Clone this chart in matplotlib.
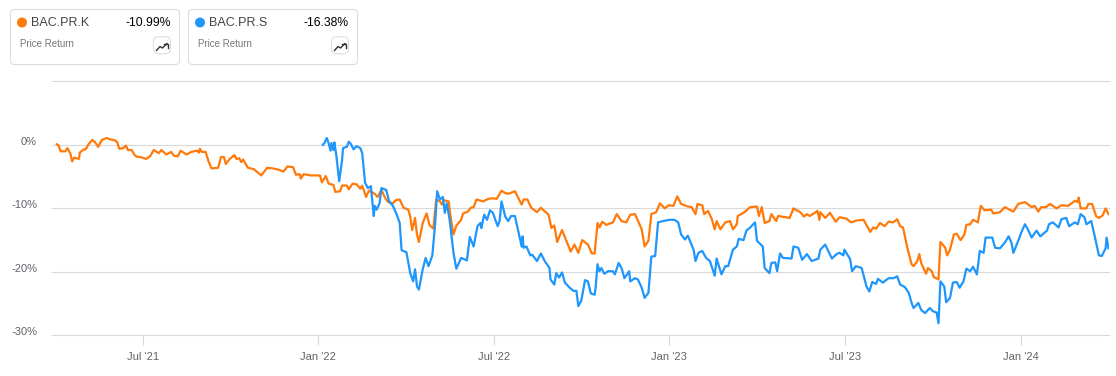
import matplotlib
matplotlib.use('Agg')
import matplotlib.pyplot as plt
from matplotlib.patches import FancyBboxPatch, Circle
import pandas as pd

plt.rcParams['font.family'] = ['Liberation Sans', 'DejaVu Sans']

start_date = pd.Timestamp('2021-03-28')

# days since start_date, and price return in %
k_days = [5, 7, 9, 14, 16, 19, 21, 23, 28, 29, 33, 35, 38, 42, 45, 48, 52, 57, 60, 66, 68, 70, 74, 77, 79, 83, 86, 89, 92, 98,
          102, 106, 111, 114, 119, 124, 127, 131, 134, 140, 145, 151, 153, 154, 156, 160, 163, 166, 173, 176, 179, 181, 185, 190, 192, 195, 197, 199,
          204, 210, 218, 224, 230, 236, 241, 245, 251, 254, 258, 259, 262, 269, 279, 281, 285, 288, 293, 295, 300,
          302, 307, 309, 313, 317, 321, 323, 327, 330, 336, 339, 343, 347, 350, 355, 358, 362, 366, 371, 373, 375, 378, 380, 382, 386, 390, 393, 397,
          400, 404, 406, 408, 413, 415, 418, 421, 426, 428, 433, 436, 439, 442, 449, 454, 459, 463, 468, 472, 475, 482, 489, 491, 495, 499, 505, 509,
          517, 520, 523, 526, 531, 536, 540, 544, 548, 552, 558, 562, 565, 568,
          570, 573, 577, 584, 588, 593, 598, 602, 607, 614, 617, 621, 624, 629, 633, 638, 642, 647, 651, 655, 662, 666, 670, 672, 677, 679, 683, 687, 690,
          692, 696, 701, 706, 709, 713, 714, 721, 727, 734, 736, 739, 742, 747, 749, 754, 756, 768, 772, 779, 783, 786, 789, 797, 799, 800, 805, 810, 816, 820,
          827, 832, 838, 845, 852, 855, 858, 862, 867, 871, 876, 880, 883, 886, 891, 895, 897, 901, 903, 905, 910, 912, 916, 918, 923, 925, 930, 932, 935,
          939, 942, 946, 950, 952, 956, 959, 964, 967, 971, 978, 980, 987, 992, 997, 1001, 1006, 1013, 1020, 1023, 1027, 1030, 1035, 1039, 1046, 1051, 1058,
          1065, 1068, 1069, 1071, 1077, 1079, 1083, 1087, 1090, 1094, 1097, 1100]
k_pct = [0.1, -0.1, -1.0, -1.0, -0.5, -1.3, -2.6, -2.0, -2.2, -1.2, -0.7, -0.7, 0.1, 0.8, 0.4, -0.3, 0.8, 1.1, 0.9, 0.7, 0.4, -0.6, -0.5, -0.1, -0.8, -0.8, -1.6, -1.9, -1.9, -2.2,
         -1.8, -0.8, -1.3, -0.8, -1.5, -1.1, -1.7, -1.8, -0.9, -1.5, -1.1, -0.9, -1.2, -0.6, -1.1, -1.1, -2.6, -3.7, -3.6, -1.9, -1.9, -3.0, -2.2, -1.6, -2.2, -2.1, -2.7, -2.3,
         -3.6, -3.8, -4.8, -3.6, -3.7, -3.9, -4.2, -3.4, -3.5, -4.7, -4.6, -5.3, -4.6, -4.8, -4.8, -5.9, -4.9, -6.1, -6.3, -7.4, -7.3,
         -6.4, -6.4, -7.0, -6.1, -6.2, -6.9, -6.4, -8.2, -7.2, -7.7, -8.2, -7.1, -8.4, -9.0, -9.2, -8.7, -8.6, -9.9, -10.2, -11.3, -13.4, -11.5, -14.1, -15.3, -12.3, -10.8, -12.6, -13.2,
         -8.6, -8.9, -9.4, -8.7, -8.9, -11.3, -14.1, -12.7, -11.8, -10.8, -10.5, -9.9, -9.8, -8.6, -8.9, -8.5, -8.4, -8.5, -7.2, -7.6, -7.7, -7.3, -9.4, -8.6, -8.6, -9.9, -10.6, -9.9,
         -11.0, -13.1, -12.7, -15.3, -13.4, -15.3, -16.8, -15.7, -17.0, -15.0, -15.7, -17.1, -17.1, -12.3,
         -13.0, -12.1, -12.6, -12.2, -10.9, -12.0, -12.2, -11.0, -10.9, -13.3, -16.0, -15.1, -10.9, -10.6, -9.2, -10.0, -9.5, -9.6, -8.1, -9.3, -9.7, -9.8, -10.9, -9.3, -9.5, -10.9, -10.4, -11.7, -13.3,
         -12.0, -13.3, -12.2, -12.0, -13.3, -12.5, -11.2, -10.6, -9.8, -9.7, -11.2, -9.8, -12.3, -12.0, -10.9, -12.0, -11.2, -11.5, -10.0, -10.6, -11.3, -10.9, -11.2, -10.4, -11.8, -10.6, -11.5, -10.7, -12.1, -11.4,
         -11.6, -12.2, -11.9, -11.8, -13.7, -13.0, -13.2, -12.3, -12.8, -12.1, -12.2, -11.7, -12.8, -13.0, -16.5, -18.8, -19.1, -18.3, -17.2, -18.6, -20.3, -19.4, -19.9, -20.8, -21.2, -15.3, -16.2, -17.4, -16.5,
         -14.1, -14.0, -15.0, -14.1, -12.6, -12.5, -11.8, -12.2, -9.6, -10.3, -10.2, -10.8, -10.6, -9.8, -10.2, -10.5, -9.3, -9.0, -9.8, -9.6, -10.5, -9.8, -9.8, -9.3, -10.0, -9.5, -9.6,
         -8.8, -9.0, -8.3, -10.0, -10.0, -9.3, -9.3, -11.2, -11.5, -11.1, -10.0, -10.9]

s_days = [282, 284, 286, 288, 290, 291, 293, 294, 296, 299, 302, 303, 307, 309, 311, 314, 317, 321, 323, 326, 329, 332, 335, 336, 338, 341, 343, 348, 351, 355, 359, 362, 364, 369,
          373, 376, 378, 380, 382, 386, 389, 392, 396, 399, 401, 404, 407, 409, 411, 414, 418, 421, 426, 432, 435, 439, 443, 446, 447, 450, 453, 456, 459, 464, 466, 468, 472, 475, 478, 482,
          486, 489, 490, 491, 494, 498, 500, 505, 509, 513, 518, 519, 523, 525, 528, 531, 534, 539, 543, 546, 548, 551, 555, 558, 561, 565, 566, 568,
          570, 572, 575, 579, 584, 586, 590, 593, 596, 601, 602, 607, 610, 614, 617, 621, 624, 628, 631, 636, 643, 648, 652, 655, 659, 662, 668, 670, 673, 677, 681, 685, 690, 692, 697, 701, 704,
          709, 713, 715, 720, 723, 727, 732, 734, 740, 742, 747, 749, 753, 755, 758, 761, 770, 772, 777, 781, 786, 791, 798, 800, 805, 812, 817, 820, 824, 825, 831, 833, 837, 843, 848, 851, 854, 858, 860,
          865, 871, 876, 880, 883, 888, 892, 895, 897, 902, 905, 909, 914, 917, 921, 923, 925, 929, 931, 935, 938, 942, 945, 949, 952, 956, 959, 963, 966, 970, 972, 979, 982, 987, 992, 996, 999,
          1001, 1006, 1010, 1013, 1016, 1020, 1025, 1029, 1036, 1038, 1042, 1048, 1051, 1056, 1059, 1065, 1068, 1071, 1075, 1077, 1082, 1086, 1090, 1093, 1097, 1098, 1100]
s_pct = [0.0, 0.4, 1.1, 0.3, -0.9, 0.3, -0.8, 0.4, -1.6, -5.7, -2.4, -0.5, -0.3, 0.5, 0.2, -0.7, -0.2, -0.5, -1.3, -6.0, -6.8, -6.5, -11.2, -9.6, -10.2, -9.2, -6.8, -7.1, -8.9, -9.6, -11.0, -12.3, -16.6, -16.9,
         -20.2, -21.5, -19.6, -22.3, -22.8, -19.6, -17.8, -19.1, -17.4, -12.3, -7.3, -8.6, -8.2, -10.7, -9.2, -11.8, -17.0, -19.5, -17.8, -18.2, -14.5, -16.0, -12.8, -12.3, -13.1, -11.0, -11.8, -10.3, -10.7, -12.8, -12.0, -8.9, -11.3, -12.0, -11.2, -11.2,
         -13.9, -16.0, -14.4, -16.2, -16.0, -17.4, -17.3, -18.3, -17.1, -18.3, -19.4, -21.2, -22.0, -20.2, -20.9, -20.1, -21.7, -22.5, -23.0, -23.0, -25.4, -24.6, -21.3, -21.5, -23.4, -23.6, -22.5, -18.8,
         -19.9, -19.4, -20.3, -19.9, -19.9, -20.4, -18.6, -19.4, -21.0, -19.9, -21.5, -21.0, -21.2, -22.5, -24.1, -23.3, -17.6, -17.5, -12.2, -12.0, -11.8, -11.8, -12.2, -14.1, -14.9, -14.3, -16.5, -18.3, -17.0, -16.7, -17.8, -18.3, -20.6, -17.9, -20.4, -19.1, -19.1,
         -16.5, -16.0, -14.8, -15.0, -13.5, -13.0, -12.2, -15.1, -16.0, -19.4, -20.2, -18.6, -18.5, -19.9, -17.1, -17.8, -17.9, -16.0, -16.2, -18.1, -17.2, -18.3, -17.9, -16.5, -15.7, -17.9, -17.2, -17.0, -17.4, -16.5, -18.0, -19.9, -19.1, -19.4, -22.3, -23.1, -21.6, -21.9, -21.1,
         -21.7, -21.0, -21.0, -20.7, -22.0, -22.4, -23.3, -24.9, -25.7, -24.9, -26.0, -26.5, -25.7, -26.2, -26.4, -28.1, -21.5, -22.3, -24.8, -24.1, -21.7, -21.6, -22.5, -21.5, -19.5, -19.9, -19.2, -20.4, -16.7, -17.0, -14.6, -14.6, -16.2, -16.3, -15.4, -14.4, -15.4,
         -17.0, -15.1, -13.5, -12.5, -13.3, -14.6, -13.5, -14.4, -13.5, -12.5, -12.2, -13.0, -11.7, -11.5, -12.8, -12.2, -12.5, -10.9, -11.4, -12.5, -12.0, -14.6, -17.4, -17.5, -16.3, -14.6, -16.3]

y_ticks = [10, 0, -10, -20, -30]
y_labels = ['', '0%', '-10%', '-20%', '-30%']
x_ticks = ['2021-07-01', '2021-12-30', '2022-07-01', '2022-12-30', '2023-07-02', '2024-01-01']
x_labels = ["Jul '21", "Jan '22", "Jul '22", "Jan '23", "Jul '23", "Jan '24"]
names = ['BAC.PR.K', 'BAC.PR.S']
returns = ['-10.99%', '-16.38%']
colors = ['#FF7A0A', '#1E96FC']

W, H = 1116, 376
fig = plt.figure(figsize=(W / 100, H / 100), dpi=100)
ax = fig.add_axes([52 / W, 1 - 335.3 / H, 1056.5 / W, 253.8 / H])

k_dates = start_date + pd.to_timedelta(k_days, unit='D')
s_dates = start_date + pd.to_timedelta(s_days, unit='D')
ax.plot(k_dates, k_pct, color=colors[0], lw=1.6, solid_joinstyle='round', zorder=3)
ax.plot(s_dates, s_pct, color=colors[1], lw=1.6, solid_joinstyle='round', zorder=4)

ax.set_xlim(start_date, start_date + pd.Timedelta(days=1100))
ax.set_ylim(-30, 10)
for sp in ax.spines.values():
    sp.set_visible(False)
ax.set_axisbelow(True)
ax.set_yticks(y_ticks)
ax.set_yticklabels([])
ax.tick_params(axis='y', length=0)
ax.grid(axis='y', color='#D9D9D9', lw=0.8)
for g in ax.get_ygridlines():
    g.set_clip_on(False)
ax.set_xticks(pd.to_datetime(x_ticks))
ax.set_xticklabels(x_labels, fontsize=8.0, color='#5F6368')
ax.tick_params(axis='x', length=7, width=0.8, color='#D9D9D9', pad=5)
for t, lab in zip(y_ticks, y_labels):
    ax.annotate(lab, (0, t), xycoords=('axes fraction', 'data'), xytext=(-15, -2), textcoords='offset pixels',
                ha='right', va='bottom', fontsize=8.0, color='#5F6368')

# legend cards, drawn in pixel coordinates
ov = fig.add_axes([0, 0, 1, 1], facecolor='none')
ov.set_xlim(0, W)
ov.set_ylim(H, 0)
ov.axis('off')
for i, x0 in enumerate([10.5, 188.5]):
    ov.add_patch(FancyBboxPatch((x0 + 4, 13.5), 161, 47, boxstyle='round,pad=4,rounding_size=4',
                                fc='white', ec='#DDDDDD', lw=0.8, clip_on=False))
    ov.add_patch(Circle((x0 + 11.5, 22.5), 5, color=colors[i], lw=0))
    ov.text(x0 + 20.5, 23, names[i], fontsize=9.0, color='#444444', va='center', ha='left')
    ov.text(x0 + 160.5, 23, returns[i], fontsize=8.7, color='#000000', va='center', ha='right')
    ov.text(x0 + 9, 44, 'Price Return', fontsize=7.0, color='#777777', va='center', ha='left')
    ov.add_patch(FancyBboxPatch((x0 + 146, 39.7), 11, 11, boxstyle='round,pad=3,rounding_size=5',
                                fc='white', ec='#DDDDDD', lw=0.8))
    ov.plot([x0 + 146, x0 + 149.5, x0 + 152, x0 + 156.5], [50.5, 46.5, 48, 43.5], color='#333333', lw=1.0)
    ov.plot([x0 + 153, x0 + 157, x0 + 157], [43.5, 43.5, 47.5], color='#333333', lw=1.0)

fig.savefig('out.png', dpi=100)
